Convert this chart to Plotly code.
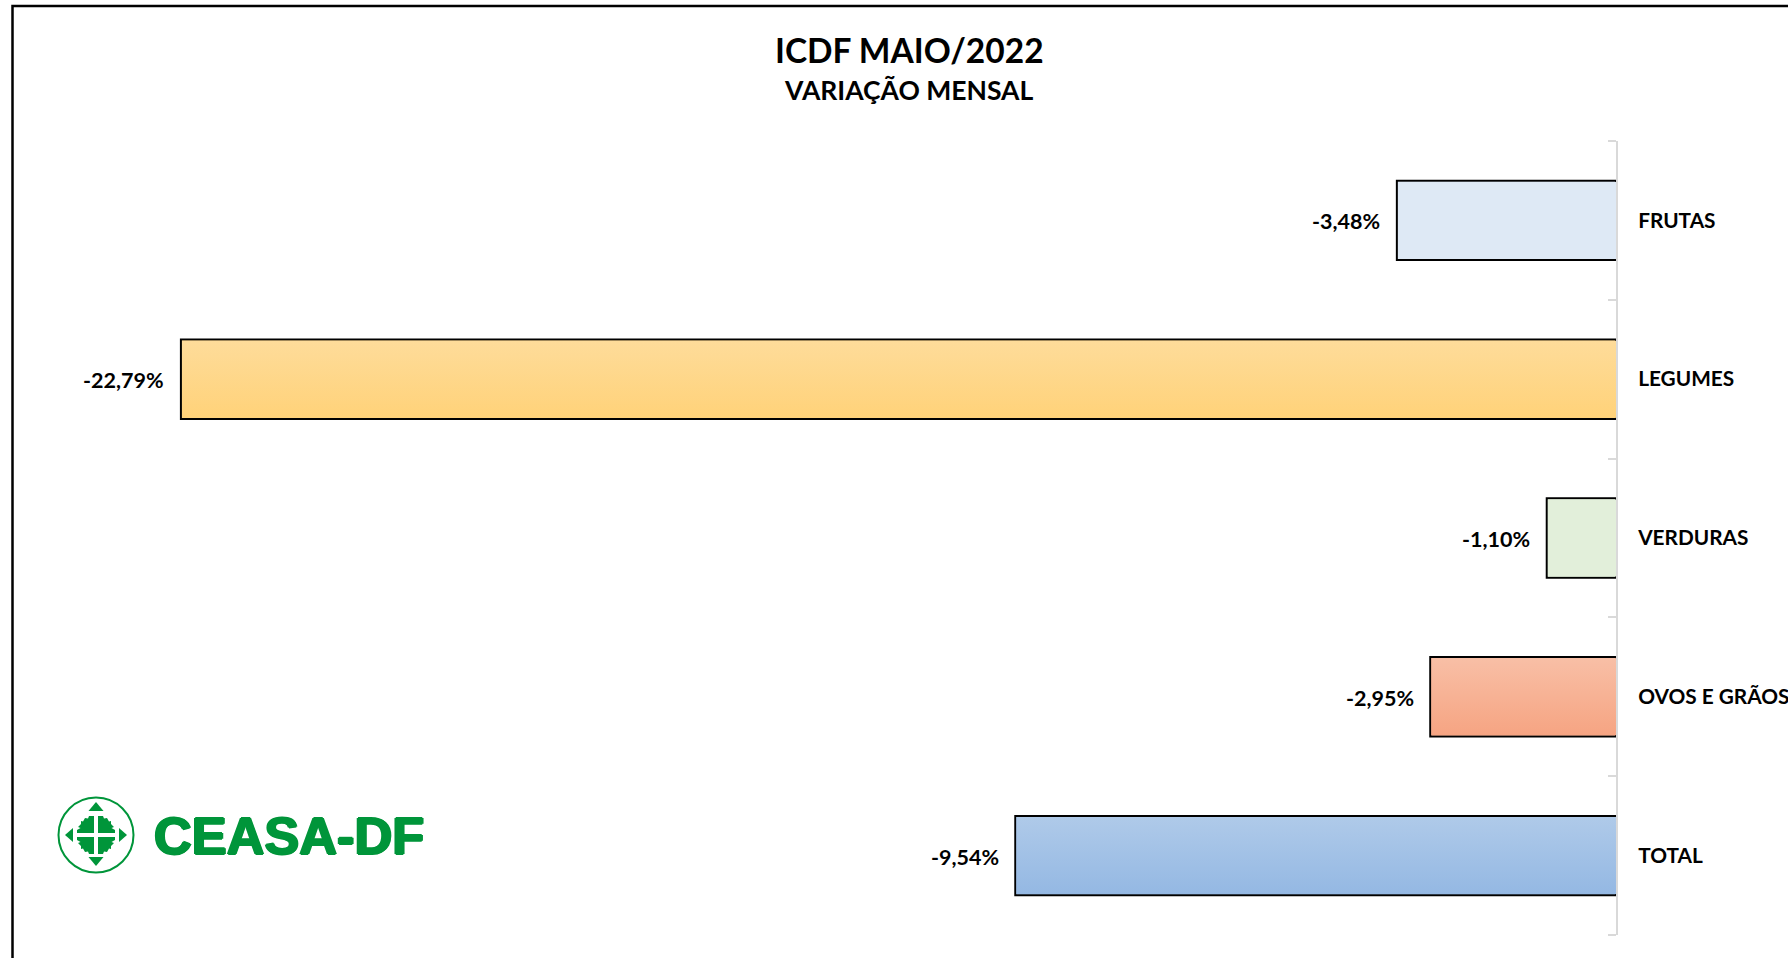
import base64
import plotly.graph_objects as go

categories = ["FRUTAS", "LEGUMES", "VERDURAS", "OVOS E GRÃOS", "TOTAL"]
values = [-3.48, -22.79, -1.10, -2.95, -9.54]
grad_top = ["#DEE9F5", "#FEDC9A", "#E2EFDA", "#F8BFA6", "#AFCAE9"]
grad_bottom = ["#DEE9F5", "#FFD279", "#E2EFDA", "#F6A482", "#94B8E3"]
base_colors = ["#DEE9F5", "#FED78A", "#E2EFDA", "#F7B294", "#A1C1E6"]
title_main = "ICDF MAIO/2022"
title_sub = "VARIAÇÃO MENSAL"
logo_text = "CEASA-DF"

W, H = 1788, 958
M_L, M_R, M_T, M_B = 0, 172, 141, 23
PLOT_W, PLOT_H = W - M_L - M_R, H - M_T - M_B
PX_PER_UNIT = 62.97
BAND_PX = PLOT_H / len(categories)
BAR_FRACTION = 0.5
LINE_W = 2
GREEN = "#00953A"
AXIS_GREY = "#D9D9D9"
TICK_LEN = 8
FONT = "Lato, 'Open Sans', sans-serif"


def px_x(x):
    return (x - M_L) / PLOT_W


def px_y(y):
    return 1 - (y - M_T) / PLOT_H


def data_uri(svg):
    return "data:image/svg+xml;base64," + base64.b64encode(svg.encode()).decode()


def gradient_svg(top, bottom):
    return data_uri(
        '<svg xmlns="http://www.w3.org/2000/svg" width="10" height="100" viewBox="0 0 10 100" '
        'preserveAspectRatio="none"><defs><linearGradient id="g" x1="0" y1="0" x2="0" y2="1">'
        f'<stop offset="0" stop-color="{top}"/><stop offset="1" stop-color="{bottom}"/>'
        '</linearGradient></defs><rect width="10" height="100" fill="url(#g)"/></svg>'
    )


def emblem_svg():
    q = [(-2, -19), (-7, -19), (-8, -16.5), (-11, -17), (-13, -13.5), (-15, -14), (-15, -11),
         (-18, -8), (-15.5, -7), (-19, -5), (-19, -2), (-2, -2)]
    polys = []
    for sx, sy in [(1, 1), (-1, 1), (1, -1), (-1, -1)]:
        pts = " ".join(f"{40 + sx * a:.1f},{40 + sy * b:.1f}" for a, b in q)
        polys.append(f'<polygon points="{pts}"/>')
    tris = ["40,7 32.5,16 47.5,16", "40,71 32.5,62 47.5,62", "9,40 17,33 17,47", "71,40 63,33 63,47"]
    polys += [f'<polygon points="{t}"/>' for t in tris]
    return data_uri(
        '<svg xmlns="http://www.w3.org/2000/svg" width="320" height="320" viewBox="0 0 80 80">'
        f'<circle cx="40" cy="40" r="37.5" fill="none" stroke="{GREEN}" stroke-width="2"/>'
        f'<g fill="{GREEN}">{"".join(polys)}</g></svg>'
    )


labels = [f"{v:.2f}".replace(".", ",") + "%" for v in values]

fig = go.Figure(
    go.Bar(
        x=values,
        y=categories,
        orientation="h",
        marker=dict(color=base_colors, line=dict(color="#000000", width=LINE_W)),
        hoverinfo="skip",
    )
)

inset_x = (LINE_W / 2) / PX_PER_UNIT
inset_y = (LINE_W / 2) / BAND_PX
images = []
for cat, v, top, bottom in zip(categories, values, grad_top, grad_bottom):
    images.append(dict(
        source=gradient_svg(top, bottom), xref="x", yref="y",
        x=v + inset_x, y=categories.index(cat) - BAR_FRACTION / 2 + inset_y,
        sizex=abs(v) - inset_x, sizey=BAR_FRACTION - 2 * inset_y,
        xanchor="left", yanchor="top", sizing="stretch", layer="above",
    ))
images.append(dict(
    source=emblem_svg(), xref="paper", yref="paper",
    x=px_x(56), y=px_y(795), sizex=80 / PLOT_W, sizey=80 / PLOT_H,
    xanchor="left", yanchor="top", sizing="stretch", layer="above",
))

annotations = [
    dict(x=v, y=cat, xref="x", yref="y", text=f"<b>{t}</b>", showarrow=False, xanchor="right", yanchor="middle",
         xshift=-14.5, yshift=-1, font=dict(family=FONT, size=21.5, color="#000000"), align="right")
    for v, cat, t in zip(values, categories, labels)
]
annotations.append(dict(
    x=px_x(152), y=px_y(836), xref="paper", yref="paper", text=f"<b>{logo_text}</b>", showarrow=False,
    xanchor="left", yanchor="middle",
    font=dict(family="Liberation Sans", size=52.3, color=GREEN,
              shadow=f"1.2px 0 0 {GREEN}, -1.2px 0 0 {GREEN}, 0 1px 0 {GREEN}, 0 -1px 0 {GREEN}"),
))
annotations.append(dict(
    x=px_x(909), y=px_y(50), xref="paper", yref="paper", text=f"<b>{title_main}</b>", showarrow=False,
    xanchor="center", yanchor="middle", font=dict(family=FONT, size=33.5, color="#000000"),
))
annotations.append(dict(
    x=px_x(908), y=px_y(90), xref="paper", yref="paper", text=f"<b>{title_sub}</b>", showarrow=False,
    xanchor="center", yanchor="middle", font=dict(family=FONT, size=26.5, color="#000000"),
))

shapes = [dict(type="rect", xref="paper", yref="paper", x0=px_x(12.5), y0=px_y(6), x1=px_x(1830), y1=px_y(1000),
               line=dict(color="#000000", width=2.5), fillcolor="rgba(0,0,0,0)", layer="below")]
# Plotly leaves out the boundary ticks at the two ends of the category axis.
for edge in (0, 1):
    shapes.append(dict(type="line", xref="paper", yref="paper", x0=1 - TICK_LEN / PLOT_W, x1=1, y0=edge, y1=edge,
                       line=dict(color=AXIS_GREY, width=2), layer="above"))

fig.update_layout(
    width=W, height=H, autosize=False,
    margin=dict(l=M_L, r=M_R, t=M_T, b=M_B, pad=0),
    paper_bgcolor="#FFFFFF", plot_bgcolor="#FFFFFF",
    showlegend=False, bargap=1 - BAR_FRACTION,
    images=images, annotations=annotations, shapes=shapes,
    xaxis=dict(range=[-PLOT_W / PX_PER_UNIT, 0], visible=False, fixedrange=True),
    yaxis=dict(
        type="category", categoryorder="array", categoryarray=categories, range=[len(categories) - 0.5, -0.5],
        side="right", showgrid=False, zeroline=False, showline=True, linecolor=AXIS_GREY, linewidth=2,
        ticks="inside", tickson="boundaries", ticklen=TICK_LEN, tickwidth=2, tickcolor=AXIS_GREY,
        ticklabelstandoff=16, automargin=False, fixedrange=True,
        tickfont=dict(family=FONT, size=20.8, color="#000000", weight="bold"),
    ),
)

fig.write_html("out.html", config={"displayModeBar": False},
               post_script="document.body.style.margin='0';document.documentElement.style.overflow='hidden';")
